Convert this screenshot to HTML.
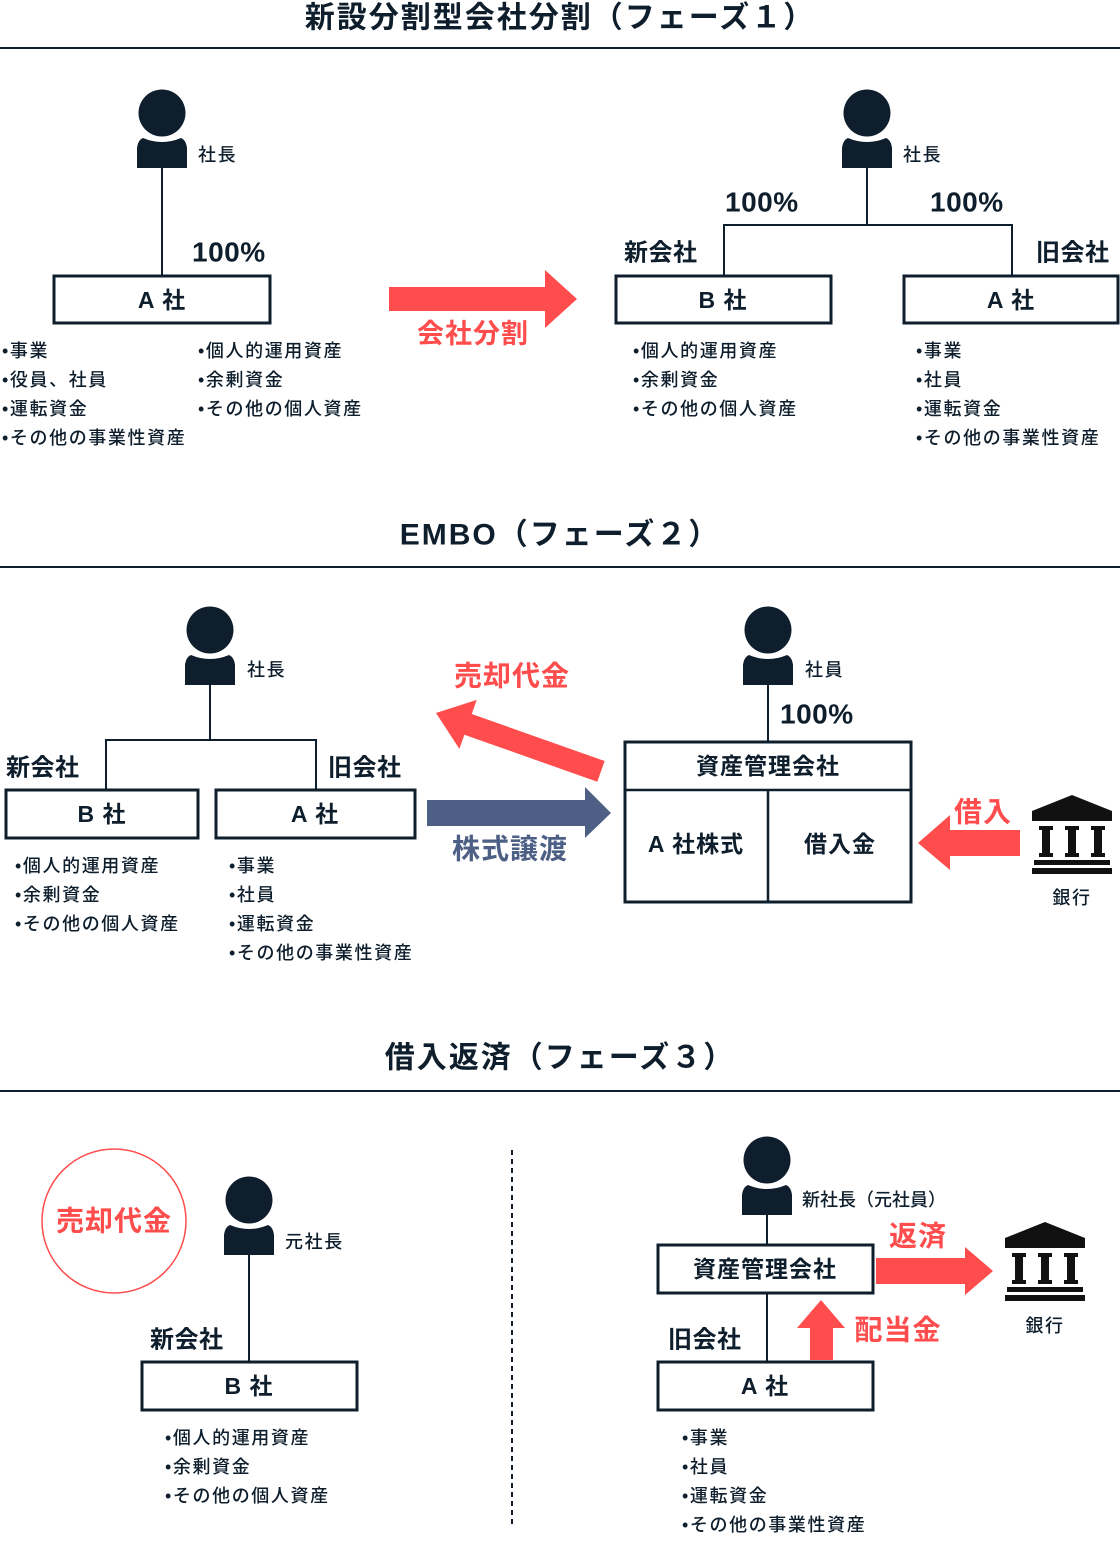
<!DOCTYPE html>
<html><head><meta charset="utf-8"><style>
html,body{margin:0;padding:0;background:#fff}
svg{display:block}
text{font-family:"Liberation Sans","Noto Sans CJK JP",sans-serif;fill:#0e1e2c}
.t{font-size:30px;font-weight:700;text-anchor:middle;letter-spacing:2px}
.b{font-size:18px;font-weight:500;letter-spacing:1.6px}
.lb{font-size:24px;font-weight:700;letter-spacing:0.5px}
.bx{font-size:23px;font-weight:700;text-anchor:middle;letter-spacing:1px}
.r{fill:#ff4d4d;font-weight:700;letter-spacing:1px}
</style></head><body>
<svg width="1120" height="1550" viewBox="0 0 1120 1550" xmlns="http://www.w3.org/2000/svg">
<defs>
<g id="p"><circle cx="0" cy="-3" r="23.5" fill="#0e1e2c"/><path d="M-19,22 Q0,30 19,22 Q24,24 25,32 L25,52 L-25,52 L-25,32 Q-24,24 -19,22Z" fill="#0e1e2c"/></g>
<g id="bank" fill="#111"><path d="M0,0 L40,16 L40,26 L-40,26 L-40,16Z"/><rect x="-33" y="31" width="14" height="4"/><rect x="-30" y="35" width="8" height="23"/><rect x="-33" y="58" width="14" height="4"/><rect x="-7" y="31" width="14" height="4"/><rect x="-4" y="35" width="8" height="23"/><rect x="-7" y="58" width="14" height="4"/><rect x="19" y="31" width="14" height="4"/><rect x="22" y="35" width="8" height="23"/><rect x="19" y="58" width="14" height="4"/><rect x="-38" y="65" width="76" height="5"/><rect x="-40" y="73" width="80" height="6"/></g>
</defs>
<g stroke="#0e1e2c" stroke-width="2" fill="none">
<line x1="0" y1="48" x2="1120" y2="48"/><line x1="0" y1="567" x2="1120" y2="567"/><line x1="0" y1="1091" x2="1120" y2="1091"/>
<line x1="162" y1="160" x2="162" y2="276"/>
<line x1="867" y1="160" x2="867" y2="225"/><polyline points="724,276 724,225 1012,225 1012,276"/>
<line x1="210" y1="676" x2="210" y2="740"/><polyline points="106,790 106,740 316,740 316,790"/>
<line x1="768" y1="676" x2="768" y2="741"/>
<line x1="249" y1="1248" x2="249" y2="1362"/>
<line x1="767" y1="1206" x2="767" y2="1245"/><line x1="767" y1="1293" x2="767" y2="1362"/>
<line x1="512" y1="1150" x2="512" y2="1525" stroke-dasharray="5,4"/>
</g>
<g stroke="#0e1e2c" stroke-width="3" fill="#fff">
<rect x="54" y="276" width="216" height="47"/>
<rect x="616" y="276" width="215" height="47"/><rect x="904" y="276" width="214" height="47"/>
<rect x="6" y="790" width="192" height="48"/><rect x="216" y="790" width="199" height="48"/>
<rect x="625" y="742" width="286" height="160"/>
<rect x="142" y="1362" width="215" height="48"/>
<rect x="658" y="1245" width="215" height="48"/><rect x="658" y="1362" width="215" height="48"/>
</g>
<g stroke="#0e1e2c" stroke-width="2.5"><line x1="625" y1="790" x2="911" y2="790"/><line x1="768" y1="790" x2="768" y2="902"/></g>
<use href="#p" x="162" y="116"/><use href="#p" x="867" y="116"/><use href="#p" x="210" y="633"/><use href="#p" x="768" y="633"/><use href="#p" x="249" y="1203"/><use href="#p" x="767" y="1163"/>
<use href="#bank" x="1072" y="795"/><use href="#bank" x="1045" y="1222"/>
<g fill="#ff4d4d">
<polygon points="389,287 545,287 545,270 577,299 545,328 545,311 389,311"/>
<g transform="translate(436,713) rotate(19.5)"><polygon points="0,0 34,-26 34,-11 175,-11 175,11 34,11 34,26"/></g>
<polygon points="1020,830 950,830 950,815 918,843 950,870 950,856 1020,856"/>
<polygon points="876,1258 965,1258 965,1247 993,1271 965,1295 965,1284 876,1284"/>
<polygon points="810,1360 810,1328 797,1328 821,1300 845,1328 833,1328 833,1360"/>
</g>
<polygon points="427,800 585,800 585,787 611,813 585,838 585,826 427,826" fill="#4d5f85"/>
<circle cx="114" cy="1221" r="72" fill="none" stroke="#ff4d4d" stroke-width="1.5"/>
<g dominant-baseline="central">
<text class="t" x="560" y="18">新設分割型会社分割（フェーズ１）</text>
<text class="t" x="560" y="535">EMBO（フェーズ２）</text>
<text class="t" x="560" y="1058">借入返済（フェーズ３）</text>
<text class="b" x="198" y="155">社長</text><text class="b" x="903" y="155">社長</text><text class="b" x="247" y="670">社長</text><text class="b" x="805" y="670">社員</text><text class="b" x="285" y="1242">元社長</text><text class="b" x="802" y="1200" style="letter-spacing:0">新社長（元社員）</text>
<text class="b" x="1072" y="898" text-anchor="middle">銀行</text><text class="b" x="1045" y="1326" text-anchor="middle">銀行</text>
<text class="lb" x="192" y="252" style="font-size:28px">100%</text><text class="lb" x="725" y="202" style="font-size:28px">100%</text><text class="lb" x="930" y="202" style="font-size:28px">100%</text><text class="lb" x="780" y="714" style="font-size:28px">100%</text>
<text class="lb" x="624" y="253">新会社</text><text class="lb" x="1036" y="253">旧会社</text>
<text class="lb" x="6" y="768">新会社</text><text class="lb" x="328" y="768">旧会社</text>
<text class="lb" x="150" y="1340">新会社</text><text class="lb" x="668" y="1340">旧会社</text>
<text class="bx" x="162" y="300">A 社</text><text class="bx" x="723" y="300">B 社</text><text class="bx" x="1011" y="300">A 社</text>
<text class="bx" x="102" y="814">B 社</text><text class="bx" x="315" y="814">A 社</text>
<text class="bx" x="768" y="766">資産管理会社</text><text class="bx" x="696" y="844">A 社株式</text><text class="bx" x="840" y="844">借入金</text>
<text class="bx" x="249" y="1386">B 社</text><text class="bx" x="765" y="1269">資産管理会社</text><text class="bx" x="765" y="1386">A 社</text>
<text class="r" x="473" y="334" text-anchor="middle" style="font-size:27px">会社分割</text>
<text class="r" x="512" y="676" text-anchor="middle" style="font-size:28px">売却代金</text>
<text x="510" y="849" text-anchor="middle" style="font-size:28px;font-weight:700;fill:#4d5f85;letter-spacing:1px">株式譲渡</text>
<text class="r" x="983" y="812" text-anchor="middle" style="font-size:28px">借入</text>
<text class="r" x="114" y="1221" text-anchor="middle" style="font-size:28px">売却代金</text>
<text class="r" x="918" y="1236" text-anchor="middle" style="font-size:28px">返済</text>
<text class="r" x="898" y="1330" text-anchor="middle" style="font-size:28px">配当金</text>
<text class="b" x="2" y="351">•事業</text><text class="b" x="2" y="380">•役員、社員</text><text class="b" x="2" y="409">•運転資金</text><text class="b" x="2" y="438">•その他の事業性資産</text>
<text class="b" x="198" y="351">•個人的運用資産</text><text class="b" x="198" y="380">•余剰資金</text><text class="b" x="198" y="409">•その他の個人資産</text>
<text class="b" x="633" y="351">•個人的運用資産</text><text class="b" x="633" y="380">•余剰資金</text><text class="b" x="633" y="409">•その他の個人資産</text>
<text class="b" x="916" y="351">•事業</text><text class="b" x="916" y="380">•社員</text><text class="b" x="916" y="409">•運転資金</text><text class="b" x="916" y="438">•その他の事業性資産</text>
<text class="b" x="15" y="866">•個人的運用資産</text><text class="b" x="15" y="895">•余剰資金</text><text class="b" x="15" y="924">•その他の個人資産</text>
<text class="b" x="229" y="866">•事業</text><text class="b" x="229" y="895">•社員</text><text class="b" x="229" y="924">•運転資金</text><text class="b" x="229" y="953">•その他の事業性資産</text>
<text class="b" x="165" y="1438">•個人的運用資産</text><text class="b" x="165" y="1467">•余剰資金</text><text class="b" x="165" y="1496">•その他の個人資産</text>
<text class="b" x="682" y="1438">•事業</text><text class="b" x="682" y="1467">•社員</text><text class="b" x="682" y="1496">•運転資金</text><text class="b" x="682" y="1525">•その他の事業性資産</text>
</g>
</svg>
</body></html>
